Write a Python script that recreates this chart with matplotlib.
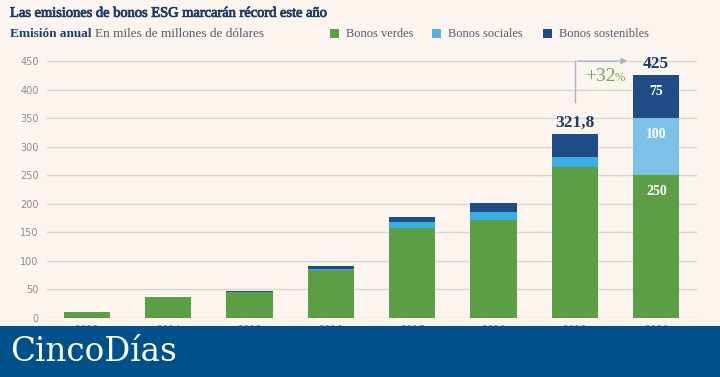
import numpy as np
import matplotlib.pyplot as plt
import matplotlib.patheffects as pe
from matplotlib.patches import Rectangle

# datos (miles de millones de dólares)
years = ['2013', '2014', '2015', '2016', '2017', '2018', '2019', '2020']
verdes = [11, 36, 45, 84, 157, 171, 265, 250]
sociales = [0, 0, 0.5, 1.5, 10.5, 14, 17.5, 100]
sostenibles = [0, 0, 1.5, 6, 9, 17, 39.3, 75]
total_labels = {6: '321,8', 7: '425'}
crecimiento = '+32'

bg = '#fcf4ee'
verde = '#5b9e45'
social = '#3aaee2'
social_2020 = '#7dc1e8'
sosten = '#1f4c86'
navy = '#1d3c66'

fig = plt.figure(figsize=(7.2, 3.77), dpi=100, facecolor=bg)
ax = fig.add_axes([0.0653, 0.1565, 0.9027, 0.6817], facecolor=bg)

x = np.arange(len(years))
w = 0.57
col_soc = [social] * (len(years) - 1) + [social_2020]
ax.bar(x, verdes, w, color=verde, zorder=3)
ax.bar(x, sociales, w, bottom=verdes, color=col_soc, zorder=3)
base2 = np.array(verdes) + np.array(sociales)
ax.bar(x, sostenibles, w, bottom=base2, color=sosten, zorder=3)

ax.set_ylim(0, 450)
ax.set_xlim(-0.49, 7.5)
ax.set_yticks(np.arange(0, 451, 50))
ax.yaxis.grid(True, color='#ddd6d0', linewidth=1, zorder=0)
ax.tick_params(axis='y', length=0, labelsize=7, labelcolor='#8a8a98', pad=6)
ax.set_xticks(x)
ax.set_xticklabels(years)
ax.tick_params(axis='x', length=0, labelsize=7, labelcolor='#8a8a98', pad=5)
for s in ax.spines.values():
    s.set_visible(False)

# huecos en la rejilla detrás de las etiquetas
ax.add_patch(Rectangle((5.6, 343), 0.74, 16, facecolor=bg, edgecolor='none', zorder=1))
ax.add_patch(Rectangle((5.6, 393), 1.7, 70, facecolor=bg, edgecolor='none', zorder=1,
                       clip_on=False))

tot = base2 + np.array(sostenibles)
for i, t in total_labels.items():
    ax.text(x[i], tot[i] + 6, t, ha='center', va='bottom', fontsize=12.5,
            fontweight='bold', color=navy, family='Liberation Serif', zorder=4, clip_on=False)

# valores dentro de la barra de 2020
segs = [(verdes[7], verdes[7]), (verdes[7] + sociales[7], sociales[7]), (tot[7], sostenibles[7])]
for top, v in segs:
    ax.text(x[7], top - 17, str(int(v)), ha='center', va='top', fontsize=10,
            fontweight='bold', color='white', family='Liberation Serif', zorder=4)

# flecha de crecimiento
ax.plot([x[6], x[6]], [378, 450], color='#aab4c6', lw=1, zorder=2, clip_on=False)
ax.annotate('', xy=(x[6] + 0.68, 450), xytext=(x[6], 450),
            arrowprops=dict(arrowstyle='-|>', color='#aab4c6', lw=1, mutation_scale=9),
            annotation_clip=False, zorder=2)
ax.text(x[6] + 0.12, 422, crecimiento, ha='left', va='center', fontsize=14,
        color='#6aa84f', family='Liberation Serif', zorder=4)
ax.text(x[6] + 0.49, 420, '%', ha='left', va='center', fontsize=9,
        color='#6aa84f', family='Liberation Serif', zorder=4)

# título y subtítulo
fig.text(0.014, 0.982, 'Las emisiones de bonos ESG marcarán récord este año', fontsize=10.4,
         color=navy, family='Liberation Serif', va='top',
         path_effects=[pe.withStroke(linewidth=0.6, foreground=navy)])
fig.text(0.014, 0.910, 'Emisión anual', fontsize=9.5, color=navy, family='Liberation Serif',
         fontweight='bold', va='center')
fig.text(0.132, 0.910, 'En miles de millones de dólares', fontsize=9.5, color='#555a66',
         family='Liberation Serif', va='center')

leg = [('Bonos verdes', verde, 0.458), ('Bonos sociales', '#5aaee0', 0.600),
       ('Bonos sostenibles', sosten, 0.754)]
for lab, c, xp in leg:
    fig.patches.append(Rectangle((xp, 0.898), 0.013, 0.026, transform=fig.transFigure,
                                 facecolor=c, edgecolor='none'))
    fig.text(xp + 0.022, 0.910, lab, fontsize=9, color='#555a66', family='Liberation Serif',
             va='center')

# banda inferior
fig.patches.append(Rectangle((0, 0), 1, 0.134, transform=fig.transFigure,
                             facecolor='#00508a', edgecolor='none', zorder=10))
fig.text(0.014, 0.066, 'CincoDías', fontsize=23.5, color='white', family='DejaVu Serif',
         va='center', zorder=11)

fig.savefig('out.png', dpi=100, facecolor=bg)
